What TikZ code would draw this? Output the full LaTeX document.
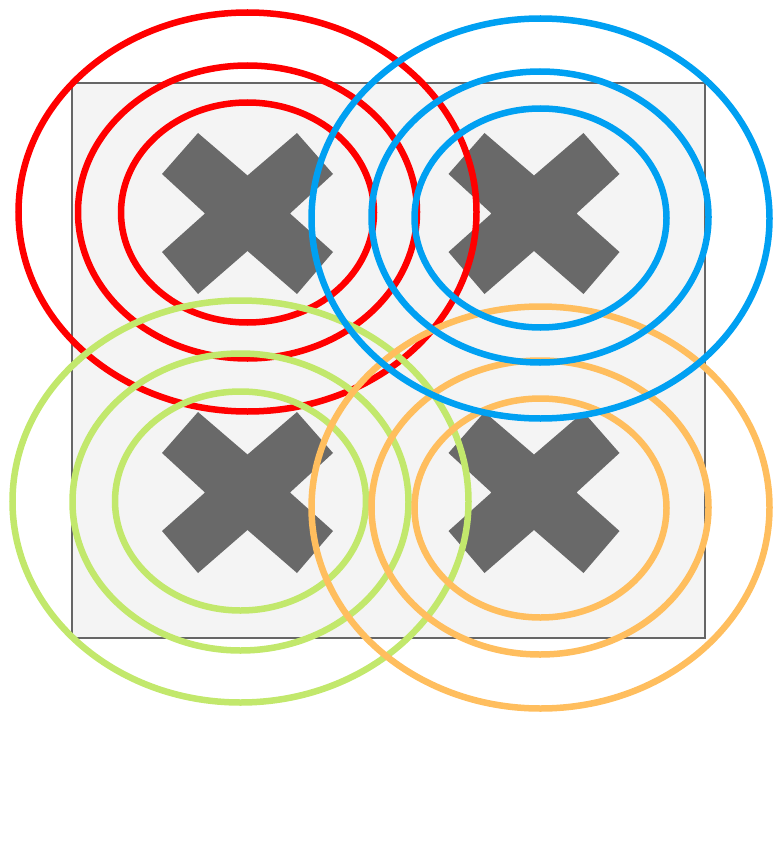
\documentclass[tikz,border=0pt]{standalone}
\begin{document}
\begin{tikzpicture}[x=1pt,y=-1pt]
\definecolor{redc}{HTML}{FF0000}
\definecolor{bluec}{HTML}{00A0F2}
\definecolor{greenc}{HTML}{C2E86C}
\definecolor{orangec}{HTML}{FFBE5E}
\definecolor{boxfill}{HTML}{F4F4F4}
\definecolor{boxline}{HTML}{666666}
\definecolor{xfill}{HTML}{696969}
\tikzset{
  ring/.style={line width=6.5pt},
  crossmark/.pic={\fill[xfill] (-49.5,-80.5) -- (0,-38) -- (49.5,-80.5) -- (85.5,-39.5) -- (42.5,0) -- (85.5,38.5) -- (49.5,80.5) -- (0,37.5) -- (-49.5,80.5) -- (-85.5,38.5) -- (-42.5,0) -- (-85.5,-39.5) -- cycle;}
}
\useasboundingbox (0,0) rectangle (783,861);
\draw[fill=boxfill, draw=boxline, line width=2pt] (72,83) rectangle (705,638);
\pic at (247.5,213.5) {crossmark};
\pic at (534,213.5) {crossmark};
\pic at (247.5,492.5) {crossmark};
\pic at (534,492.5) {crossmark};
% red
\draw[ring, redc] (247.5,212) ellipse [x radius=229, y radius=199.5];
\draw[ring, redc] (247.5,212) ellipse [x radius=169.5, y radius=146.5];
\draw[ring, redc] (247.5,212.5) ellipse [x radius=126.5, y radius=110];
% green
\draw[ring, greenc] (240.5,501.5) ellipse [x radius=228, y radius=201];
\draw[ring, greenc] (240.5,502) ellipse [x radius=168, y radius=148.5];
\draw[ring, greenc] (240.5,501) ellipse [x radius=125.5, y radius=109.5];
% orange
\draw[ring, orangec] (540.5,507.5) ellipse [x radius=229, y radius=201];
\draw[ring, orangec] (540,507.5) ellipse [x radius=168.5, y radius=147];
\draw[ring, orangec] (540.5,508) ellipse [x radius=126, y radius=109.5];
% blue
\draw[ring, bluec] (540.5,218.5) ellipse [x radius=229, y radius=200];
\draw[ring, bluec] (540,217) ellipse [x radius=168.5, y radius=145.5];
\draw[ring, bluec] (540.5,218) ellipse [x radius=126, y radius=109.5];
\end{tikzpicture}
\end{document}
